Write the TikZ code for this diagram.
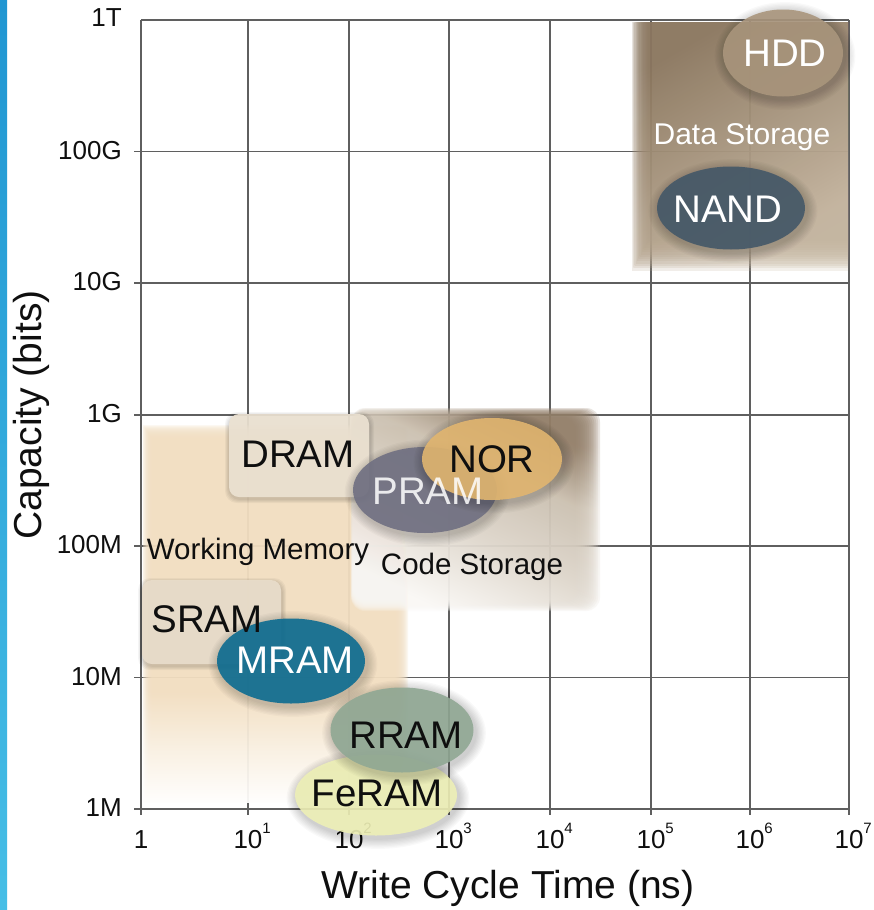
\documentclass[tikz,border=0pt]{standalone}
\usepackage{fontspec}
\setmainfont{Liberation Sans}
\usetikzlibrary{shapes.geometric}
\definecolor{gridc}{RGB}{95,95,95}
\definecolor{wm}{RGB}{242,223,194}
\definecolor{ds}{RGB}{140,120,96}
\definecolor{dsl}{RGB}{196,180,158}
\definecolor{csd}{RGB}{148,128,106}
\definecolor{csm}{RGB}{205,194,178}
\definecolor{csl}{RGB}{250,248,245}
\definecolor{dramc}{RGB}{236,226,210}
\definecolor{sramc}{RGB}{233,221,203}
\definecolor{hddc}{RGB}{170,150,125}
\definecolor{nandc}{RGB}{68,88,104}
\definecolor{pramc}{RGB}{112,112,130}
\definecolor{norc}{RGB}{226,182,112}
\definecolor{mramc}{RGB}{12,108,145}
\definecolor{rramc}{RGB}{144,168,148}
\definecolor{feramc}{RGB}{238,240,182}
\definecolor{stripetop}{RGB}{32,150,210}
\definecolor{stripebot}{RGB}{70,190,230}
\definecolor{txt}{RGB}{15,15,15}
\pgfdeclareverticalshading{wmshade}{100bp}{color(0bp)=(white); color(25bp)=(wm!4!white); color(32bp)=(wm!45!white); color(40bp)=(wm); color(100bp)=(wm)}
\pgfdeclareverticalshading{csshade}{100bp}{color(0bp)=(csl); color(25bp)=(csl); color(45bp)=(csm!60!csl); color(62bp)=(csm); color(75bp)=(csd); color(100bp)=(csd)}
% soft-edged box: 14 stacked layers
\newcommand\softbox[9]{%
  \foreach \k in {0,...,13}{%
    \path[#1, opacity=0.2] ({#2+(\k/7-1)*#6},{#3+(\k/7-1)*#7}) rectangle ({#4-(\k/7-1)*#8},{#5-(\k/7-1)*#9});
  }}
\newcommand\blob[5]{%
  \foreach \k in {1,...,8}{%
    \pgfmathsetmacro\rxx{#3+\k*1.3}\pgfmathsetmacro\ryy{#4+\k*1.3}%
    \fill[black, opacity=0.025] ({#1+2},{#2+3}) ellipse [x radius=\rxx, y radius=\ryy];}
  \fill[#5, opacity=0.9] (#1,#2) ellipse [x radius=#3, y radius=#4];}
\newcommand\tsup[1]{\rlap{\raisebox{15pt}{\fontsize{15}{15}\selectfont #1}}}
\tikzset{
  lab/.style={font=\fontsize{38.5}{40}\selectfont, inner sep=0pt, anchor=base, text=txt},
  wlab/.style={lab, text=white},
  reglab/.style={font=\fontsize{29.5}{31}\selectfont, inner sep=0pt, anchor=base, text=txt},
  ylab/.style={font=\fontsize{26}{28}\selectfont, inner sep=0pt, anchor=base east, text=txt},
  xlab/.style={font=\fontsize{26}{28}\selectfont, inner sep=0pt, anchor=base, text=txt},
  axtitle/.style={font=\fontsize{39}{41}\selectfont, inner sep=0pt, anchor=base, text=txt},
  gridline/.style={draw=gridc, line width=1.2pt},
  boxshadow/.style={fill=black, opacity=0.04, rounded corners=12},
}
\begin{document}
\begin{tikzpicture}[x=1pt,y=-1pt]
\useasboundingbox (0,0) rectangle (873,910);
\fill[white] (0,0) rectangle (873,910);
\shade[top color=stripetop, bottom color=stripebot] (0,0) rectangle (7,910);

% grid
\foreach \yy in {151.7,283,415,546,677.7,809} \draw[gridline] (134,\yy) -- (849,\yy);
\draw[gridline] (141,20) -- (849,20);
\foreach \xx in {141,248,349,449,550,651,750,849} \draw[gridline] (\xx,20) -- (\xx,815);

% tick labels
\node[ylab] (y1T) at (122,27) {1T};
\node[ylab] (y100G) at (122,159) {100G};
\node[ylab] (y10G) at (122,290.5) {10G};
\node[ylab] (y1G) at (122,422.5) {1G};
\node[ylab] (y100M) at (122,553.5) {100M};
\node[ylab] (y10M) at (122,685) {10M};
\node[ylab] (y1M) at (122,816) {1M};
\node[xlab] (x0) at (141,848) {1};
\node[xlab] (x1) at (248,848) {10\tsup{1}};
\node[xlab] (x2) at (349,848) {10\tsup{2}};
\node[xlab] (x3) at (449,848) {10\tsup{3}};
\node[xlab] (x4) at (550,848) {10\tsup{4}};
\node[xlab] (x5) at (651,848) {10\tsup{5}};
\node[xlab] (x6) at (750,848) {10\tsup{6}};
\node[xlab] (x7) at (849,848) {10\tsup{7}};
\node[axtitle, rotate=90] (ytitle) at (41,415) {Capacity (bits)};
\node[axtitle] (xtitle) at (508,898) {Write Cycle Time (ns)};

% regions
\softbox{shade, shading=wmshade}{148}{432}{401}{802}{5}{7}{7}{0}
\softbox{shade, top color=ds, middle color=ds, bottom color=dsl, shading angle=30}{641}{22}{848}{254}{9}{0}{0}{16}
\softbox{shade, shading=csshade, shading angle=-25, rounded corners=14}{352}{413}{587}{605}{1}{5}{13}{6}

% DRAM / SRAM boxes
\foreach \k in {1,...,4}{\fill[boxshadow] ({229-\k},{414-\k+2}) rectangle ({369+\k+1},{497+\k+2});}
\fill[dramc, opacity=0.93, rounded corners=10] (229,414) rectangle (369,497);
\foreach \k in {1,...,4}{\fill[boxshadow] ({142-\k},{580-\k+2}) rectangle ({281+\k+1},{664+\k+2});}
\fill[sramc, opacity=0.93, rounded corners=10] (142,580) rectangle (281,664);

% ellipses
\blob{783}{53}{60}{43.5}{hddc}
\blob{731}{208}{74}{41.5}{nandc}
\blob{425}{490}{72}{43}{pramc}
\blob{492}{459}{70}{41}{norc}
\blob{291}{661}{74}{42.5}{mramc}
\blob{376}{795}{81}{40.5}{feramc}
\blob{402}{730}{71.5}{42.5}{rramc}

% labels
\node[wlab] (hdd) at (785,66) {HDD};
\node[reglab, text=white, font=\fontsize{30}{32}\selectfont] (datast) at (742,144) {Data Storage};
\node[wlab] (nand) at (728,222) {NAND};
\node[lab] (dram) at (298,467) {DRAM};
\node[lab] (nor) at (492,472) {NOR};
\node[wlab, text opacity=0.85] (pram) at (428,504) {PRAM};
\node[reglab] (workmem) at (258,559) {Working Memory};
\node[reglab] (codest) at (472,574) {Code Storage};
\node[lab] (sram) at (207,632) {SRAM};
\node[wlab] (mram) at (295,673) {MRAM};
\node[lab] (rram) at (406,748) {RRAM};
\node[lab] (feram) at (377,806) {FeRAM};
\end{tikzpicture}
\end{document}
